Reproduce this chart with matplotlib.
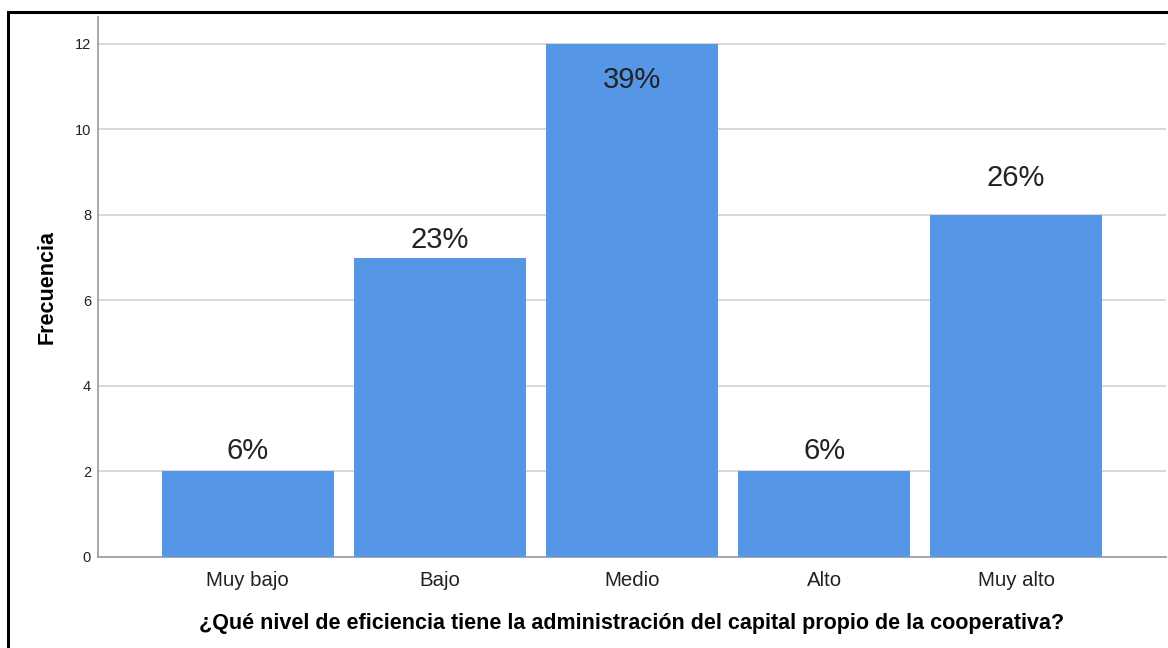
import numpy as np
import matplotlib
matplotlib.use("Agg")
import matplotlib.pyplot as plt
from matplotlib.patches import Rectangle

plt.rcParams['font.family'] = ['Liberation Sans', 'DejaVu Sans']

niveles = ["Muy bajo", "Bajo", "Medio", "Alto", "Muy alto"]
frecuencia = [2, 7, 12, 2, 8]
porcentajes = ["6%", "23%", "39%", "6%", "26%"]
# vertical shift of each percentage label relative to its bar top
desplaz = [0.48, 0.42, -0.85, 0.48, 0.87]

fig = plt.figure(figsize=(11.68, 6.48), dpi=100)
ax = fig.add_axes([98/1168, 1-557/648, (1166-98)/1168, (557-17)/648])

x = np.arange(len(niveles))
ax.bar(x, frecuencia, width=0.894, color="#5596E6", zorder=3)

for xi, f, p, d in zip(x, frecuencia, porcentajes, desplaz):
    ax.text(xi, f + d, p, ha="center", va="center", fontsize=21,
            color="#222222", zorder=4)

ax.set_xlim(-0.78, 4.78)
ax.set_ylim(0, 12.63)
ax.set_yticks([0, 2, 4, 6, 8, 10, 12])
ax.set_xticks(x)
ax.set_xticklabels(niveles)
ax.tick_params(axis="x", length=0, pad=10, labelsize=14.7, labelcolor="#222222")
ax.tick_params(axis="y", length=0, pad=5, labelsize=10.5, labelcolor="#222222")
ax.yaxis.grid(True, color="#d4d4d4", linewidth=1.3, zorder=0)

for s in ["top", "right"]:
    ax.spines[s].set_visible(False)
for s in ["left", "bottom"]:
    ax.spines[s].set_color("#a0a0a0")
    ax.spines[s].set_linewidth(1.3)

ax.set_ylabel("Frecuencia", fontsize=15.5, fontweight="bold", labelpad=12)
ax.set_xlabel("¿Qué nivel de eficiencia tiene la administración del capital propio de la cooperativa?",
              fontsize=15.5, fontweight="bold", labelpad=17)

# outer frame, cut off at the right and bottom edges
fig.add_artist(Rectangle((7.5/1168, -0.1), 1.2, 1 - 12/648 + 0.1,
                         transform=fig.transFigure, fill=False,
                         edgecolor="black", linewidth=2.2, clip_on=False))

fig.savefig("out.png", dpi=100)
